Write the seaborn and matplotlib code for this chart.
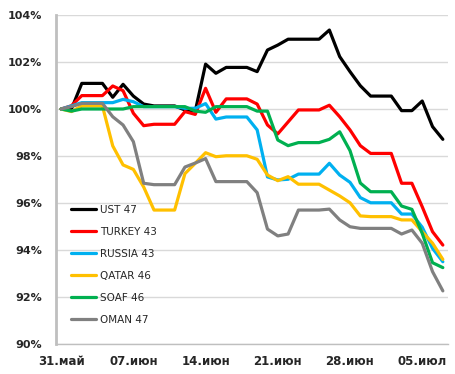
import numpy as np
import pandas as pd
import matplotlib
matplotlib.use("Agg")
import matplotlib.pyplot as plt
import seaborn as sns
from matplotlib.ticker import FuncFormatter, FixedLocator

# Days since 31 May (calendar days)
days = list(range(38))
tick_days = [0, 7, 14, 21, 28, 35]
tick_labels = ["31.май", "07.июн", "14.июн", "21.июн", "28.июн", "05.июл"]

ust47 = [100.0, 100.0, 101.09, 101.09, 101.09, 100.50, 101.05, 100.55, 100.21, 100.13,
         100.13, 100.13, 99.96, 99.91, 101.91, 101.52, 101.77, 101.77, 101.77, 101.59,
         102.51, 102.72, 102.97, 102.97, 102.97, 102.97, 103.36, 102.23, 101.59, 100.99,
         100.55, 100.55, 100.55, 99.93, 99.93, 100.34, 99.25, 98.71]
turkey43 = [100.0, 100.14, 100.57, 100.57, 100.57, 100.98, 100.78, 99.82, 99.29, 99.35,
            99.35, 99.35, 99.89, 99.77, 100.88, 99.86, 100.43, 100.43, 100.43, 100.21,
            99.32, 98.94, 99.45, 99.96, 99.96, 99.96, 100.16, 99.67, 99.11, 98.44,
            98.11, 98.11, 98.11, 96.84, 96.84, 95.84, 94.78, 94.21]
russia43 = [100.0, 100.13, 100.27, 100.27, 100.27, 100.27, 100.41, 100.31, 100.10, 100.10,
            100.10, 100.10, 100.03, 100.03, 100.23, 99.57, 99.66, 99.66, 99.66, 99.11,
            97.11, 96.98, 97.01, 97.23, 97.23, 97.23, 97.69, 97.19, 96.88, 96.23,
            96.01, 96.01, 96.01, 95.53, 95.53, 94.97, 94.07, 93.50]
qatar46 = [100.0, 99.89, 100.13, 100.13, 100.13, 98.43, 97.62, 97.43, 96.68, 95.70,
           95.70, 95.70, 97.25, 97.69, 98.14, 97.97, 98.01, 98.01, 98.01, 97.86,
           97.19, 96.95, 97.12, 96.80, 96.80, 96.80, 96.55, 96.30, 96.01, 95.45,
           95.42, 95.42, 95.42, 95.28, 95.28, 94.78, 94.29, 93.60]
soaf46 = [100.0, 99.91, 100.0, 100.0, 100.0, 100.0, 100.0, 100.10, 100.10, 100.10,
          100.10, 100.10, 100.10, 99.91, 99.86, 100.10, 100.10, 100.10, 100.10, 99.91,
          99.91, 98.68, 98.44, 98.57, 98.57, 98.57, 98.71, 99.03, 98.23, 96.85,
          96.48, 96.48, 96.48, 95.87, 95.73, 94.71, 93.46, 93.25]
oman47 = [100.0, 100.10, 100.24, 100.24, 100.24, 99.67, 99.32, 98.61, 96.84, 96.78,
          96.78, 96.78, 97.53, 97.70, 97.89, 96.91, 96.91, 96.91, 96.91, 96.44,
          94.89, 94.60, 94.68, 95.70, 95.70, 95.70, 95.74, 95.28, 94.99, 94.92,
          94.92, 94.92, 94.92, 94.68, 94.85, 94.29, 93.08, 92.26]

series_names = ["UST 47", "TURKEY 43", "RUSSIA 43", "QATAR 46", "SOAF 46", "OMAN 47"]
series_values = [ust47, turkey43, russia43, qatar46, soaf46, oman47]
colors = ["#000000", "#FF0000", "#00B0F0", "#FFC000", "#00B050", "#808080"]

df = pd.concat([pd.DataFrame({"day": days, "value": v, "series": n})
                for n, v in zip(series_names, series_values)], ignore_index=True)

sns.set_style("white")
plt.rcParams["font.family"] = ["DejaVu Sans"]

fig = plt.figure(figsize=(4.56, 3.74), dpi=100)
ax = fig.add_axes([56/456, 30/374, (448-56)/456, (344-15)/374])

sns.lineplot(data=df, x="day", y="value", hue="series", hue_order=series_names,
             palette=colors, linewidth=2.3, ax=ax, legend=False, sort=False)

ax.set_xlim(-0.5, 37.5)
ax.set_ylim(90, 104)
ax.set_yticks(np.arange(90, 105, 2))
ax.yaxis.set_major_formatter(FuncFormatter(lambda v, p: f"{v:.0f}%"))
ax.grid(axis="y", color="#D9D9D9", linewidth=1.0)
ax.set_axisbelow(True)

# labels at the day centres, tick marks between days
ax.set_xticks(tick_days)
ax.set_xticklabels(tick_labels)
ax.xaxis.set_minor_locator(FixedLocator([d - 0.5 for d in tick_days]))
ax.tick_params(axis="x", which="major", length=0, pad=8, labelsize=8.5)
ax.tick_params(axis="x", which="minor", length=4, width=1, color="#BFBFBF", direction="out")
ax.tick_params(axis="y", which="major", length=5, width=1, color="#BFBFBF",
               direction="out", pad=5, labelsize=8)
for lab in ax.get_xticklabels() + ax.get_yticklabels():
    lab.set_fontweight("bold")

ax.set_xlabel("")
ax.set_ylabel("")
for s in ["top", "right"]:
    ax.spines[s].set_visible(False)
ax.spines["left"].set_color("#BFBFBF")
ax.spines["left"].set_linewidth(2)
ax.spines["bottom"].set_color("#BFBFBF")
ax.spines["bottom"].set_linewidth(1)

handles = [plt.Line2D([], [], color=c, linewidth=2.3) for c in colors]
leg = ax.legend(handles, series_names, loc="center left",
                bbox_to_anchor=(71/456, 1 - 265/374), bbox_transform=fig.transFigure,
                frameon=False, fontsize=7.5, handlelength=2.4, handletextpad=0.35,
                labelspacing=1.15, borderpad=0, borderaxespad=0)

fig.savefig("out.png", dpi=100)
